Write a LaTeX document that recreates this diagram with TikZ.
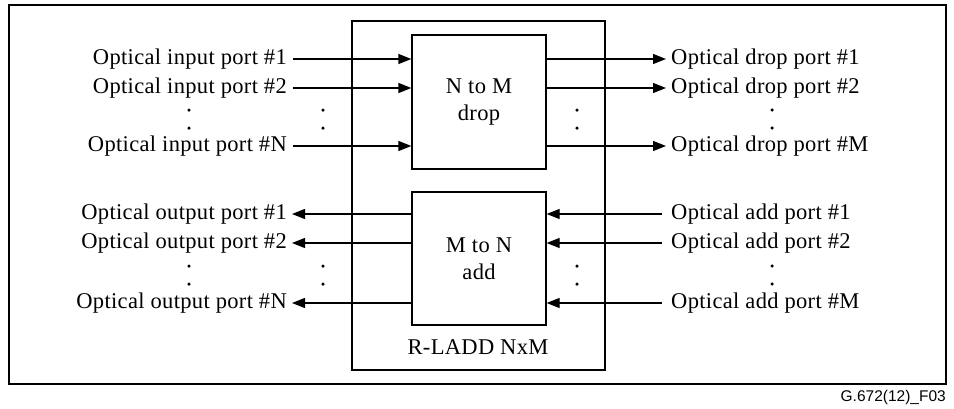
\documentclass[tikz,border=0pt]{standalone}
\usepackage{fontspec}
\setmainfont{Liberation Serif}[LetterSpace=1.5]
\newfontfamily\capfont{Liberation Sans}
\usetikzlibrary{arrows.meta}
\begin{document}
\begin{tikzpicture}[x=1pt,y=-1pt,
  lbl/.style={font=\fontsize{22.5}{27}\selectfont, inner sep=0pt},
  frame/.style={draw, line width=1.4pt, inner sep=0pt},
  blk/.style={draw, line width=1.3pt, minimum width=134pt, minimum height=134pt,
    align=center, font=\fontsize{22.5}{27}\selectfont, inner sep=0pt},
  conn/.style={line width=1.3pt, -{Triangle[length=13pt,width=10pt]}},
  vdot/.style={circle, fill, inner sep=0pt, minimum size=3.5pt}
]
\useasboundingbox (0,0) rectangle (954,408);
% outer frame
\node[frame, minimum width=937pt, minimum height=379pt] (outer) at (477.5,194.5) {};
% inner R-LADD box
\node[frame, line width=1.3pt, minimum width=253pt, minimum height=349pt] (rladd) at (478.5,195.5) {};
\node[lbl] (rlbl) at (478,347) {R-LADD NxM};
% blocks
\node[blk] (drop) at (479,102) {N to M\\drop};
\node[blk, minimum height=133pt] (add) at (479,258.5) {M to N\\add};

% input labels
\node[lbl, anchor=east] (in1) at (287,59) {Optical input port \#1};
\node[lbl, anchor=east] (in2) at (287,88) {Optical input port \#2};
\node[lbl, anchor=east] (inN) at (287,146) {Optical input port \#N};
% output labels
\node[lbl, anchor=east] (out1) at (287,214) {Optical output port \#1};
\node[lbl, anchor=east] (out2) at (287,243) {Optical output port \#2};
\node[lbl, anchor=east] (outN) at (287,303) {Optical output port \#N};
% drop labels
\node[lbl, anchor=west] (dr1) at (671,59) {Optical drop port \#1};
\node[lbl, anchor=west] (dr2) at (671,88) {Optical drop port \#2};
\node[lbl, anchor=west] (drM) at (671,146) {Optical drop port \#M};
% add labels
\node[lbl, anchor=west] (ad1) at (671,214) {Optical add port \#1};
\node[lbl, anchor=west] (ad2) at (671,243) {Optical add port \#2};
\node[lbl, anchor=west] (adM) at (671,303) {Optical add port \#M};

% connectors
\foreach \n in {in1,in2,inN}
  \draw[conn] ([xshift=6pt]\n.east) -- (drop.west |- \n.east);
\foreach \n in {out1,out2,outN}
  \draw[conn] (add.west |- \n.east) -- ([xshift=5pt]\n.east);
\foreach \n in {dr1,dr2,drM}
  \draw[conn] (drop.east |- \n.west) -- ([xshift=-5pt]\n.west);
\foreach \n in {ad1,ad2,adM}
  \draw[conn] ([xshift=-9pt]\n.west) -- (add.east |- \n.west);

% dots
\foreach \x/\y [count=\i] in {189/110,189/128,323/110,323/128,577/110,577/128,772/110,772/128,
  189/266,189/284,323/266,323/284,577/266,577/284,772/266,772/284}
  \node[vdot] (d\i) at (\x,\y) {};

% caption
\node[inner sep=0pt, anchor=east, font=\capfont\fontsize{15.5}{18}\selectfont] (cap) at (946,397) {G.672(12)\_F03};
\end{tikzpicture}
\end{document}
